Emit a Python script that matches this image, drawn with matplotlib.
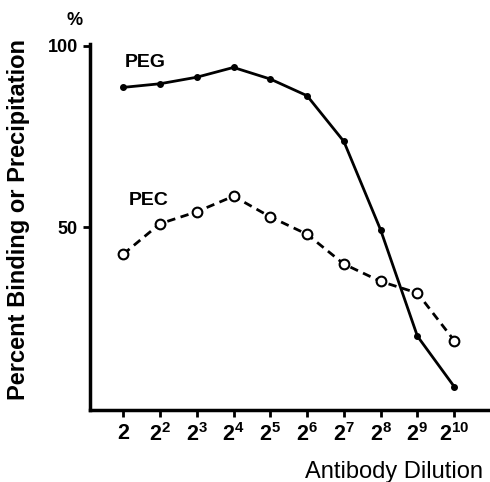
import matplotlib
matplotlib.use('Agg')
import matplotlib.pyplot as plt
import numpy as np

# dilution steps (powers of two)
exponents = [1, 2, 3, 4, 5, 6, 7, 8, 9, 10]
tick_labels = ['$\\mathbf{2}$'] + ['$\\mathbf{2^{%d}}$' % e for e in exponents[1:]]

peg = [88.5, 89.5, 91.3, 94.0, 90.8, 86.2, 73.6, 49.2, 19.9, 6.0]
pec = [42.5, 50.9, 54.2, 58.5, 52.8, 48.0, 39.8, 35.0, 31.8, 18.7]

plt.rcParams['font.family'] = ['Liberation Sans Narrow', 'Liberation Sans', 'DejaVu Sans']
plt.rcParams['mathtext.fontset'] = 'custom'
plt.rcParams['mathtext.bf'] = 'Liberation Sans:bold'
plt.rcParams['mathtext.rm'] = 'Liberation Sans'

fig = plt.figure(figsize=(4.9, 4.82), dpi=100)
ax = fig.add_axes([0.184, 0.149, 0.812, 0.76])

ax.plot(exponents, peg, '-', color='black', lw=2, marker='o', ms=4,
        mfc='black', mec='black')
ax.plot(exponents, pec, '--', color='black', lw=2, dashes=(3, 2), marker='o',
        ms=7, mfc='white', mec='black', mew=1.5)

ax.text(1.05, 95.4, 'PEG', fontsize=14, fontweight='bold', va='center')
ax.text(1.15, 57.4, 'PEC', fontsize=14, fontweight='bold', va='center')

ax.set_xlim(0.103, 10.92)
ax.set_ylim(-0.5, 100.5)

ax.set_xticks(exponents)
ax.set_xticklabels(tick_labels, fontsize=15.5)
ax.set_yticks([50, 100])
ax.set_yticklabels(['50', '100'], fontsize=13, fontweight='bold')

for side in ['top', 'right']:
    ax.spines[side].set_visible(False)
for side in ['left', 'bottom']:
    ax.spines[side].set_linewidth(2.5)
ax.tick_params(axis='both', direction='out', length=5, width=2, pad=4)

fig.text(0.153, 0.957, '%', fontsize=13, fontweight='bold', ha='center', va='center')
fig.text(0.037, 0.545, 'Percent Binding or Precipitation', fontsize=17,
         fontweight='bold', rotation=90, ha='center', va='center')
fig.text(0.805, 0.02, 'Antibody Dilution', fontsize=17, ha='center', va='center')

fig.savefig('out.png', dpi=100)
